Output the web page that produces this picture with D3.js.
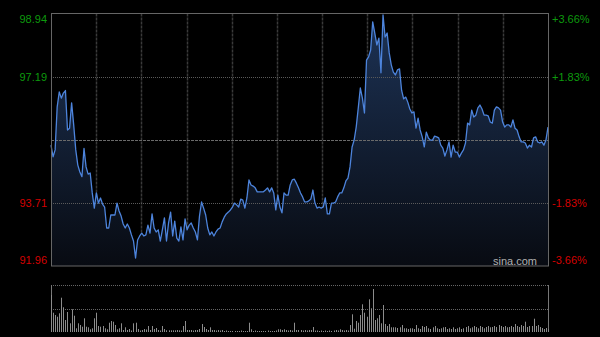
<!DOCTYPE html>
<html>
<head>
<meta charset="utf-8">
<script src="https://cdn.jsdelivr.net/npm/d3@7"></script>
<style>
  html, body { margin: 0; padding: 0; background: #000; }
  svg { display: block; }
  text { font-family: Arial, "Liberation Sans", sans-serif; }
</style>
</head>
<body>
<div id="chart"></div>
<script>
// price axis ticks (left) and percent ticks (right)
var preClose = 95.45;
var priceTicks = [98.94, 97.19, 95.45, 93.71, 91.96];
var pctTicks = ["+3.66%", "+1.83%", "0.00%", "-1.83%", "-3.66%"];

// one price per minute, 242 minutes
var prices = [
  95.30, 94.98, 95.17, 96.36, 96.77, 96.60, 96.74, 96.81, 95.72, 95.77,
  96.47, 95.86, 95.17, 94.75, 94.56, 94.43, 95.21, 94.70, 94.50, 94.53,
  93.98, 93.56, 93.98, 93.70, 93.84, 93.67, 93.59, 93.01, 93.01, 93.37,
  93.37, 93.37, 93.70, 93.48, 93.34, 93.12, 93.01, 93.12, 93.01, 92.82,
  92.65, 92.18, 92.68, 92.79, 92.87, 92.79, 92.82, 93.09, 92.87, 93.40,
  93.01, 92.90, 92.96, 92.65, 92.96, 93.29, 92.65, 93.15, 93.45, 92.79,
  93.20, 92.73, 92.65, 93.04, 92.68, 93.26, 92.96, 93.09, 93.15, 93.01,
  92.90, 92.68, 93.34, 93.73, 93.56, 93.37, 93.01, 92.82, 92.90, 92.79,
  92.90, 92.98, 93.01, 93.18, 93.31, 93.40, 93.45, 93.51, 93.59, 93.70,
  93.65, 93.59, 93.81, 93.78, 93.56, 93.84, 94.34, 94.20, 94.17, 94.12,
  94.01, 94.01, 94.01, 94.01, 94.06, 94.12, 94.01, 94.12, 93.98, 93.51,
  93.92, 93.59, 93.43, 93.98, 93.92, 93.92, 94.20, 94.34, 94.36, 94.25,
  94.12, 93.98, 93.87, 93.73, 93.73, 93.76, 93.81, 94.06, 93.70, 93.56,
  93.59, 93.56, 93.59, 93.84, 93.40, 93.40, 93.70, 93.70, 93.73, 93.87,
  93.98, 93.98, 94.12, 94.31, 94.39, 94.70, 95.25, 95.44, 95.80, 96.33,
  96.88, 96.60, 96.19, 97.65, 97.74, 97.93, 98.71, 98.40, 98.07, 98.26,
  97.30, 98.90, 98.29, 98.40, 97.85, 97.52, 97.32, 97.24, 97.38, 97.41,
  96.82, 96.58, 96.63, 96.49, 96.30, 96.19, 96.22, 95.77, 96.05, 95.72,
  95.53, 95.25, 95.66, 95.50, 95.44, 95.44, 95.55, 95.53, 95.50, 95.30,
  95.22, 95.00, 95.17, 95.39, 94.97, 95.30, 95.11, 95.11, 94.97, 95.08,
  95.17, 95.36, 95.91, 95.86, 96.27, 96.08, 96.13, 96.33, 96.41, 96.30,
  96.13, 96.13, 96.11, 95.94, 95.91, 96.27, 96.36, 96.33, 96.27, 95.94,
  95.80, 95.86, 95.86, 95.80, 96.00, 95.77, 95.72, 95.53, 95.39, 95.39,
  95.36, 95.22, 95.30, 95.25, 95.50, 95.53, 95.39, 95.36, 95.39, 95.30,
  95.44, 95.80
];

// traded volume per minute (lots)
var volumes = [
  3700, 1930, 1700, 1530, 1870, 3430, 2470, 1200, 2000, 870,
  2270, 1630, 370, 870, 700, 530, 1370, 530, 470, 270,
  370, 1370, 1930, 600, 530, 600, 370, 270, 930, 1100,
  1030, 700, 270, 370, 870, 200, 470, 200, 300, 150,
  870, 930, 300, 150, 200, 300, 250, 600, 200, 600,
  300, 400, 200, 150, 600, 300, 170, 170, 170, 170,
  170, 200, 170, 150, 600, 1100, 200, 200, 200, 150,
  200, 200, 300, 800, 500, 300, 200, 470, 200, 200,
  150, 200, 150, 200, 100, 150, 100, 100, 100, 100,
  100, 100, 150, 100, 100, 100, 930, 270, 100, 150,
  100, 100, 100, 100, 100, 150, 100, 100, 100, 150,
  270, 270, 200, 270, 200, 150, 200, 150, 930, 200,
  200, 200, 150, 200, 150, 200, 200, 500, 150, 150,
  100, 150, 100, 150, 100, 150, 100, 150, 200, 150,
  270, 200, 150, 200, 150, 700, 1770, 330, 1100, 930,
  1700, 2770, 1930, 1530, 3270, 2370, 4300, 1200, 1370, 1700,
  870, 2700, 800, 600, 800, 470, 470, 470, 400, 470,
  700, 370, 370, 300, 370, 370, 300, 700, 370, 300,
  600, 500, 600, 370, 300, 470, 600, 370, 300, 370,
  470, 500, 300, 370, 300, 470, 300, 370, 470, 300,
  370, 500, 600, 370, 470, 600, 500, 370, 600, 500,
  370, 500, 600, 470, 500, 600, 500, 700, 600, 500,
  600, 470, 500, 600, 500, 800, 600, 500, 700, 600,
  1030, 500, 600, 600, 1330, 600, 700, 500, 400, 300,
  400, 300
];

var W = 600, H = 337;
var plot = { left: 51, right: 548, top: 13.5, bottom: 266 };
var vol = { top: 285, bottom: 332 };

var svg = d3.select("#chart").append("svg")
  .attr("width", W).attr("height", H)
  .style("background", "#000");

var x = d3.scaleLinear().domain([0, 241]).range([plot.left, plot.right]);
var y = d3.scaleLinear()
  .domain([priceTicks[priceTicks.length - 1], priceTicks[0]])
  .range([plot.bottom, plot.top]);
var yv = d3.scaleLinear().domain([0, 4700]).range([vol.bottom, vol.top]);

// gradient under the line
var defs = svg.append("defs");
var grad = defs.append("linearGradient")
  .attr("id", "areaFill")
  .attr("gradientUnits", "userSpaceOnUse")
  .attr("x1", 0).attr("y1", plot.top)
  .attr("x2", 0).attr("y2", plot.bottom);
grad.append("stop").attr("offset", "0%").attr("stop-color", "#1d3356");
grad.append("stop").attr("offset", "100%").attr("stop-color", "#080b12");

// vertical grid, 11 even columns
var cols = d3.range(1, 11).map(function(i) { return i * 241 / 11; });
svg.append("g").attr("class", "vgrid")
  .selectAll("line").data(cols).enter()
  .append("line")
    .attr("x1", function(d) { return Math.round(x(d)) + 0.5; })
    .attr("x2", function(d) { return Math.round(x(d)) + 0.5; })
    .attr("y1", plot.top).attr("y2", plot.bottom)
    .attr("stroke", "#3a3a3a")
    .attr("stroke-width", 1.5)
    .attr("stroke-dasharray", "3,1");

// area + line
var area = d3.area()
  .x(function(d, i) { return x(i); })
  .y0(plot.bottom)
  .y1(function(d) { return y(d); });
var line = d3.line()
  .x(function(d, i) { return x(i); })
  .y(function(d) { return y(d); });

svg.append("path").datum(prices)
  .attr("d", area)
  .attr("fill", "url(#areaFill)");

// horizontal grid (drawn over the fill)
svg.append("g").attr("class", "hgrid")
  .selectAll("line").data(priceTicks.slice(1, 4)).enter()
  .append("line")
    .attr("x1", plot.left).attr("x2", plot.right)
    .attr("y1", function(d) { return Math.round(y(d)) + 0.5; })
    .attr("y2", function(d) { return Math.round(y(d)) + 0.5; })
    .attr("stroke", function(d) { return d == preClose ? "#6a6a6a" : "#5a5a5a"; })
    .attr("stroke-dasharray", function(d) { return d == preClose ? "3,1" : "1,1"; });

svg.append("path").datum(prices)
  .attr("d", line)
  .attr("fill", "none")
  .attr("stroke", "#4d84dc")
  .attr("stroke-width", 1.3)
  .attr("stroke-linejoin", "round");

// frame
svg.append("rect")
  .attr("x", plot.left + 0.5).attr("y", plot.top)
  .attr("width", plot.right - plot.left).attr("height", plot.bottom - plot.top)
  .attr("fill", "none")
  .attr("stroke", "#666")
  .attr("stroke-width", 1);

// axis labels
function labelY(d, i) {
  if (i == 0) return y(d) + 9;
  if (i == priceTicks.length - 1) return y(d) - 2;
  return y(d) + 4;
}
function labelColor(d) {
  return d > preClose ? "#0d9a0d" : "#d40000";
}
var shown = [0, 1, 3, 4];

svg.append("g").selectAll("text")
  .data(shown).enter()
  .append("text")
    .attr("x", 47)
    .attr("y", function(i) { return labelY(priceTicks[i], i); })
    .attr("text-anchor", "end")
    .attr("font-size", 11)
    .attr("fill", function(i) { return labelColor(priceTicks[i]); })
    .text(function(i) { return priceTicks[i].toFixed(2); });

svg.append("g").selectAll("text")
  .data(shown).enter()
  .append("text")
    .attr("x", 552)
    .attr("y", function(i) { return labelY(priceTicks[i], i); })
    .attr("text-anchor", "start")
    .attr("font-size", 11)
    .attr("fill", function(i) { return labelColor(priceTicks[i]); })
    .text(function(i) { return pctTicks[i]; });

svg.append("text")
  .attr("x", 537).attr("y", 265)
  .attr("text-anchor", "end")
  .attr("font-size", 11)
  .attr("fill", "#b0b0b0")
  .text("sina.com");

// volume panel
var vp = svg.append("g").attr("class", "volume");
[vol.top, (vol.top + vol.bottom) / 2].forEach(function(v) {
  vp.append("line")
    .attr("x1", plot.left).attr("x2", plot.right)
    .attr("y1", Math.round(v) + 0.5).attr("y2", Math.round(v) + 0.5)
    .attr("stroke", "#666")
    .attr("stroke-dasharray", "1,1");
});
[plot.left + 0.5, plot.right + 0.5].forEach(function(v) {
  vp.append("line")
    .attr("x1", v).attr("x2", v)
    .attr("y1", vol.top).attr("y2", vol.bottom)
    .attr("stroke", "#777");
});
vp.selectAll("rect.bar")
  .data(volumes).enter()
  .append("rect")
    .attr("class", "bar")
    .attr("x", function(d, i) { return Math.round(x(i)); })
    .attr("width", 1)
    .attr("y", function(d) { return yv(d); })
    .attr("height", function(d) { return vol.bottom - yv(d); })
    .attr("fill", "#8c8c8c");
</script>
</body>
</html>
